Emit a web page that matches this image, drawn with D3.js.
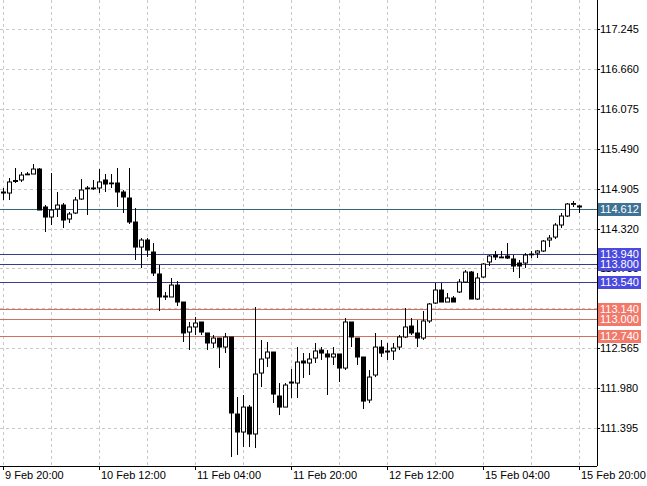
<!DOCTYPE html>
<html><head><meta charset="utf-8">
<script src="https://cdn.jsdelivr.net/npm/d3@7"></script>
<style>body{margin:0;background:#fff}text{font-family:"Liberation Sans",Arial,sans-serif}</style>
</head><body><svg id="c" width="647" height="486"></svg>
<script>
const open=[114.840,114.840,115.009,115.031,115.111,115.119,115.192,114.635,114.488,114.606,114.664,114.459,114.547,114.752,114.906,114.906,114.914,115.031,114.987,114.987,114.855,114.767,114.415,114.048,114.151,113.975,113.653,113.316,113.316,113.491,113.242,112.802,112.876,112.949,112.788,112.641,112.714,112.582,112.729,111.600,111.336,111.702,111.307,112.201,112.421,112.509,111.864,111.702,112.054,112.054,112.377,112.348,112.421,112.538,112.480,112.436,112.480,112.274,112.949,112.714,112.436,111.805,112.172,112.582,112.509,112.524,112.582,112.729,112.890,112.788,112.714,112.964,113.227,113.418,113.242,113.301,113.389,113.535,113.682,113.286,113.609,113.829,113.931,113.902,113.917,113.873,113.814,113.814,113.939,113.960,113.990,114.151,114.195,114.371,114.503,114.679,114.650];
const high=[114.914,115.060,115.207,115.148,115.148,115.265,115.207,114.664,115.134,114.855,114.694,114.562,114.782,115.046,114.943,115.031,115.192,115.119,115.119,115.207,114.884,115.207,114.620,114.180,114.180,114.107,113.785,113.389,113.594,113.550,113.242,112.949,113.022,112.949,112.788,112.758,112.714,112.788,112.729,111.849,111.879,111.732,113.169,112.685,112.656,112.509,112.054,112.054,112.260,112.582,112.494,112.494,112.641,112.582,112.538,112.582,112.480,113.007,112.949,112.714,112.436,112.245,112.788,112.685,112.641,112.641,112.758,113.154,113.007,112.978,113.110,113.227,113.521,113.521,113.374,113.330,113.579,113.711,113.697,113.667,113.814,113.931,113.990,113.990,114.107,113.931,113.858,113.960,113.990,114.004,114.151,114.224,114.400,114.547,114.694,114.723,114.664];
const low=[114.738,114.738,114.987,115.002,115.104,115.119,114.591,114.268,114.371,114.488,114.327,114.400,114.532,114.738,114.518,114.884,114.840,114.855,114.914,114.635,114.547,114.386,113.858,113.741,113.902,113.624,113.110,113.271,113.316,113.184,112.656,112.538,112.758,112.758,112.538,112.567,112.274,112.494,110.970,111.000,111.116,111.116,111.101,111.996,112.289,111.761,111.585,111.702,111.835,111.835,112.128,112.172,112.348,112.392,111.879,112.318,112.069,112.245,112.582,112.318,111.673,111.761,112.142,112.436,112.392,112.392,112.538,112.714,112.758,112.582,112.685,112.934,113.213,113.242,113.242,113.242,113.374,113.521,113.286,113.271,113.594,113.770,113.858,113.887,113.873,113.682,113.594,113.741,113.887,113.887,113.975,114.048,114.166,114.327,114.488,114.635,114.547];
const close=[114.855,115.002,115.024,115.104,115.119,115.192,114.591,114.488,114.591,114.664,114.444,114.532,114.738,114.884,114.914,114.914,115.002,114.972,114.980,114.855,114.782,114.415,114.048,114.151,114.004,113.667,113.316,113.330,113.491,113.242,112.788,112.876,112.934,112.802,112.641,112.714,112.582,112.729,111.615,111.336,111.702,111.307,112.186,112.406,112.509,111.893,111.702,112.025,112.069,112.362,112.348,112.406,112.524,112.494,112.436,112.480,112.274,112.949,112.729,112.436,111.790,112.142,112.582,112.494,112.524,112.567,112.729,112.876,112.788,112.714,112.964,113.213,113.418,113.242,113.301,113.242,113.535,113.682,113.286,113.594,113.799,113.917,113.902,113.895,113.887,113.770,113.770,113.931,113.946,113.990,114.136,114.180,114.371,114.503,114.679,114.686,114.635];
const priceTicks=[117.245,116.660,116.075,115.490,114.905,114.320,113.735,113.150,112.565,111.980,111.395];
const timeLabels=["9 Feb 20:00","10 Feb 12:00","11 Feb 04:00","11 Feb 20:00","12 Feb 12:00","15 Feb 04:00","15 Feb 20:00"];
const levelValues=[114.612,113.940,113.800,113.540,113.140,113.000,112.740];
const levelKinds=["last","blue","blue","blue","red","red","red"];

const svg=d3.select("#c");
const W=597,H=466;
const x=d3.scaleLinear().domain([0,96]).range([3,579]);
const y=d3.scaleLinear().domain([111.395,117.245]).range([428,29]);
const n=open.length;
const g=svg.append("g");
g.selectAll(".hg").data(priceTicks).join("line").attr("x1",0).attr("x2",W).attr("y1",d=>Math.round(y(d))+.5).attr("y2",d=>Math.round(y(d))+.5).attr("stroke","#c8c8c8").attr("stroke-dasharray","3,3");
const vIdx=d3.range(0,97,8);
g.selectAll(".vg").data(vIdx).join("line").attr("x1",d=>Math.round(x(d))+.5).attr("x2",d=>Math.round(x(d))+.5).attr("y1",0).attr("y2",H).attr("stroke","#c8c8c8").attr("stroke-dasharray","3,3");
const lc={last:"#3b6475",blue:"#3a3a8c",red:"#d0705f"};
const lb={last:"#3f7396",blue:"#4a4ae0",red:"#f2796a"};
svg.selectAll(".lv").data(levelValues).join("line").attr("x1",0).attr("x2",W).attr("y1",d=>Math.round(y(d))+.5).attr("y2",d=>Math.round(y(d))+.5).attr("stroke",(d,i)=>lc[levelKinds[i]]).attr("stroke-width",1);
const idx=d3.range(n);
const cg=svg.append("g");
cg.selectAll(".w").data(idx).join("line").attr("x1",i=>Math.round(x(i))+.5).attr("x2",i=>Math.round(x(i))+.5).attr("y1",i=>y(high[i])).attr("y2",i=>y(low[i])).attr("stroke","#000");
cg.selectAll(".b").data(idx).join("rect")
 .attr("x",i=>Math.round(x(i))-2+.5).attr("width",4)
 .attr("y",i=>y(Math.max(open[i],close[i])))
 .attr("height",i=>Math.max(0.8,Math.abs(y(open[i])-y(close[i]))))
 .attr("fill",i=>close[i]>=open[i]?"#fff":"#000").attr("stroke","#000");
svg.append("line").attr("x1",W+.5).attr("x2",W+.5).attr("y1",0).attr("y2",H).attr("stroke","#000");
svg.append("line").attr("x1",0).attr("x2",W).attr("y1",H+.5).attr("y2",H+.5).attr("stroke","#000");
svg.selectAll(".pt").data(priceTicks).join("line").attr("x1",W).attr("x2",W+3).attr("y1",d=>Math.round(y(d))+.5).attr("y2",d=>Math.round(y(d))+.5).attr("stroke","#000");
svg.selectAll(".ptl").data(priceTicks).join("text").attr("x",600).attr("y",d=>y(d)+4).attr("font-size",11).attr("fill","#000").text(d=>d.toFixed(3));
const tIdx=d3.range(0,97,16);
svg.selectAll(".tt").data(tIdx).join("line").attr("x1",d=>Math.round(x(d))+.5).attr("x2",d=>Math.round(x(d))+.5).attr("y1",H).attr("y2",H+4).attr("stroke","#000");
svg.selectAll(".ttl").data(tIdx).join("text").attr("x",d=>x(d)+2).attr("y",479).attr("font-size",11).attr("fill","#000").text((d,i)=>timeLabels[i]);
const lg=svg.selectAll(".ll").data(levelValues).join("g").attr("transform",d=>`translate(${W},${Math.round(y(d))})`);
lg.append("rect").attr("x",1).attr("y",-6).attr("width",43).attr("height",13).attr("fill",(d,i)=>lb[levelKinds[i]]);
lg.append("text").attr("x",3).attr("y",4).attr("font-size",11).attr("fill","#fff").text(d=>d.toFixed(3));
</script></body></html>
